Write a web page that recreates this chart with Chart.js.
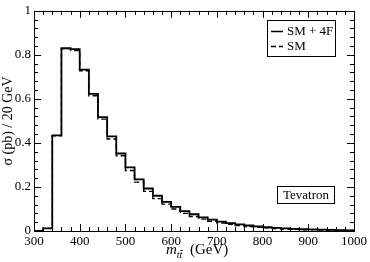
<!DOCTYPE html>
<html>
<head>
<meta charset="utf-8">
<script src="https://cdn.jsdelivr.net/npm/chart.js@4.4.1/dist/chart.umd.min.js"></script>
<style>
    html, body { margin: 0; padding: 0; background: #fff; }
    #wrap { width: 370px; height: 262px; }
</style>
</head>
<body>
<div id="wrap"><canvas id="chart"></canvas></div>
<script>
// left edges of the 20 GeV bins, last edge closes the histogram
const binEdges = [300, 320, 340, 360, 380, 400, 420, 440, 460, 480, 500, 520, 540, 560, 580,
    600, 620, 640, 660, 680, 700, 720, 740, 760, 780, 800, 820, 840, 860, 880, 900, 920, 940, 960, 980];
const lastEdge = 1000;

const sm4fValues = [0.0, 0.012, 0.434, 0.830, 0.826, 0.733, 0.623, 0.517, 0.430, 0.352, 0.289, 0.234,
    0.193, 0.160, 0.132, 0.110, 0.090, 0.076, 0.062, 0.052, 0.043, 0.036, 0.030, 0.025, 0.021, 0.017,
    0.014, 0.012, 0.010, 0.008, 0.007, 0.006, 0.005, 0.004, 0.003];
const smValues = [0.0, 0.012, 0.432, 0.828, 0.820, 0.728, 0.614, 0.508, 0.418, 0.342, 0.275, 0.222,
    0.180, 0.147, 0.122, 0.100, 0.080, 0.066, 0.054, 0.044, 0.036, 0.030, 0.025, 0.020, 0.017, 0.014,
    0.011, 0.009, 0.008, 0.006, 0.005, 0.004, 0.004, 0.003, 0.002];

const xTicks = [300, 400, 500, 600, 700, 800, 900, 1000];
const yTicks = [0, 0.2, 0.4, 0.6, 0.8, 1];
const xMinorStep = 20;
const yMinorStep = 0.04;

const serif = '"Liberation Serif", "DejaVu Serif", serif';

function toSteps(values) {
    const pts = binEdges.map((x, i) => ({ x: x, y: values[i] }));
    pts.push({ x: lastEdge, y: values[values.length - 1] });
    return pts;
}

// box, inward ticks on all four sides, legend, text boxes
const framePlugin = {
    id: 'frame',
    afterDraw(chart) {
        const { ctx, chartArea: a, scales: { x, y } } = chart;
        ctx.save();
        ctx.strokeStyle = '#000';
        ctx.lineWidth = 1;
        ctx.strokeRect(Math.round(a.left) + 0.5, Math.round(a.top) + 0.5,
            Math.round(a.right - a.left), Math.round(a.bottom - a.top));

        ctx.beginPath();
        const nx = Math.round((xTicks[xTicks.length - 1] - xTicks[0]) / xMinorStep);
        for (let i = 0; i <= nx; i++) {
            const v = xTicks[0] + i * xMinorStep;
            const px = Math.round(x.getPixelForValue(v)) + 0.5;
            const len = i % 5 === 0 ? 7 : 4;
            ctx.moveTo(px, a.bottom); ctx.lineTo(px, a.bottom - len);
            ctx.moveTo(px, a.top); ctx.lineTo(px, a.top + len);
        }
        const ny = Math.round((yTicks[yTicks.length - 1] - yTicks[0]) / yMinorStep);
        for (let i = 0; i <= ny; i++) {
            const v = yTicks[0] + i * yMinorStep;
            const py = Math.round(y.getPixelForValue(v)) + 0.5;
            const len = i % 5 === 0 ? 7 : 4;
            ctx.moveTo(a.left, py); ctx.lineTo(a.left + len, py);
            ctx.moveTo(a.right, py); ctx.lineTo(a.right - len, py);
        }
        ctx.stroke();

        // legend
        ctx.strokeRect(267.5, 20.5, 68, 36);
        ctx.font = '13px ' + serif;
        ctx.fillStyle = '#000';
        ctx.textBaseline = 'middle';
        chart.data.datasets.forEach((ds, i) => {
            const ly = 31.5 + i * 15;
            ctx.beginPath();
            ctx.lineWidth = 1.5;
            ctx.setLineDash(ds.borderDash || []);
            ctx.moveTo(271, ly); ctx.lineTo(283, ly);
            ctx.stroke();
            ctx.setLineDash([]);
            ctx.fillText(ds.label, 287, ly + 0.5);
        });

        // Tevatron box
        ctx.lineWidth = 1;
        ctx.strokeRect(277.5, 186.5, 57, 17);
        ctx.textAlign = 'center';
        ctx.fillText('Tevatron', 306, 195.5);

        // x axis title: m_tt̄ (GeV)
        ctx.textAlign = 'left';
        ctx.textBaseline = 'alphabetic';
        ctx.font = 'italic 15px ' + serif;
        ctx.fillText('m', 166, 254);
        const mw = ctx.measureText('m').width;
        ctx.font = 'italic 10px ' + serif;
        ctx.fillText('tt', 166 + mw, 258);
        const tw = ctx.measureText('t').width;
        ctx.beginPath();
        ctx.lineWidth = 0.8;
        ctx.moveTo(166 + mw + tw + 0.5, 250.5);
        ctx.lineTo(166 + mw + 2 * tw + 0.5, 250.5);
        ctx.stroke();
        ctx.font = '15px ' + serif;
        ctx.fillText('(GeV)', 190, 254);
        ctx.restore();
    }
};

new Chart(document.getElementById('chart'), {
    type: 'line',
    data: {
        datasets: [
            {
                label: 'SM + 4F',
                data: toSteps(sm4fValues),
                borderColor: '#000',
                borderWidth: 1.8,
                stepped: true,
                pointRadius: 0,
                fill: false
            },
            {
                label: 'SM',
                data: toSteps(smValues),
                borderColor: '#000',
                borderWidth: 1.4,
                borderDash: [5, 3],
                stepped: true,
                pointRadius: 0,
                fill: false
            }
        ]
    },
    options: {
        responsive: true,
        maintainAspectRatio: false,
        animation: false,
        layout: { padding: { top: 4, right: 12, left: 0, bottom: 0 } },
        plugins: {
            legend: { display: false },
            tooltip: { enabled: false }
        },
        scales: {
            x: {
                type: 'linear',
                min: 300,
                max: 1000,
                grid: { display: false, drawTicks: false },
                border: { display: false },
                afterBuildTicks: s => { s.ticks = xTicks.map(v => ({ value: v })); },
                ticks: {
                    color: '#000', font: { family: serif, size: 13 }, padding: 3, maxRotation: 0, autoSkip: false,
                    callback: v => String(v)
                },
                afterFit: s => { s.height = 31; }
            },
            y: {
                min: 0,
                max: 1,
                grid: { display: false, drawTicks: false },
                border: { display: false },
                afterBuildTicks: s => { s.ticks = yTicks.map(v => ({ value: v })); },
                ticks: {
                    color: '#000', font: { family: serif, size: 13 }, padding: 3,
                    callback: v => String(v)
                },
                title: {
                    display: true,
                    text: 'σ (pb) / 20 GeV',
                    color: '#000',
                    font: { family: serif, size: 14 },
                    padding: { top: 0, bottom: 0 }
                },
                afterFit: s => { s.width = 34; }
            }
        }
    },
    plugins: [framePlugin]
});
</script>
</body>
</html>
